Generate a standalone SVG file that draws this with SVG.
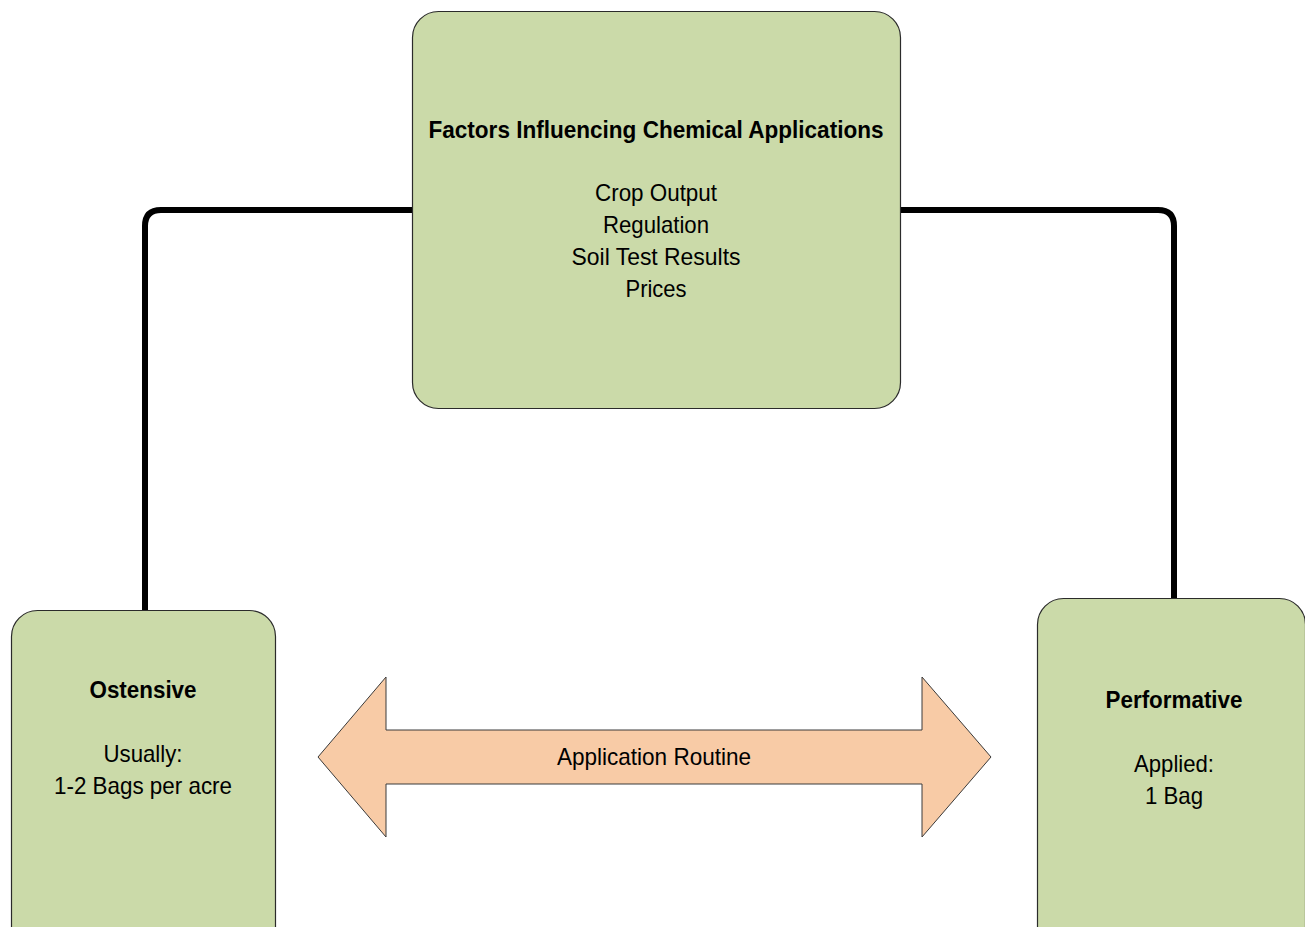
<svg xmlns="http://www.w3.org/2000/svg" width="1305" height="927" viewBox="0 0 1305 927">
  <style>
    .box { fill: #cbdaa9; stroke: #2b2b2b; stroke-width: 1.2; }
    .arrow { fill: #f8cba6; stroke: #3a3a3a; stroke-width: 1; }
    .link { fill: none; stroke: #000; stroke-width: 6; stroke-linecap: round; stroke-linejoin: round; }
    text { font-family: "Liberation Sans", Arial, sans-serif; font-size: 24px; fill: #000; text-anchor: middle; }
    .bold { font-weight: bold; }
  </style>
  <rect width="1305" height="927" fill="#fff"/>

  <!-- connectors from the factors box down to each routine side -->
  <g id="connectors">
    <path class="link" d="M412,210 H161 Q145,210 145,226 V610"/>
    <path class="link" d="M901,210 H1158 Q1174,210 1174,226 V599"/>
  </g>

  <g id="factors">
    <rect class="box" x="412.5" y="11.5" width="488" height="397" rx="26" ry="26"/>
    <text class="bold" x="656" y="138" textLength="455" lengthAdjust="spacingAndGlyphs">Factors Influencing Chemical Applications</text>
    <text x="656" y="201" textLength="122" lengthAdjust="spacingAndGlyphs">Crop Output</text>
    <text x="656" y="233" textLength="106" lengthAdjust="spacingAndGlyphs">Regulation</text>
    <text x="656" y="265" textLength="169" lengthAdjust="spacingAndGlyphs">Soil Test Results</text>
    <text x="656" y="297" textLength="61" lengthAdjust="spacingAndGlyphs">Prices</text>
  </g>

  <g id="ostensive">
    <rect class="box" x="11.5" y="610.5" width="264" height="360" rx="26" ry="26"/>
    <text class="bold" x="143" y="698" textLength="107" lengthAdjust="spacingAndGlyphs">Ostensive</text>
    <text x="143" y="762" textLength="79" lengthAdjust="spacingAndGlyphs">Usually:</text>
    <text x="143" y="794" textLength="178" lengthAdjust="spacingAndGlyphs">1-2 Bags per acre</text>
  </g>

  <g id="performative">
    <rect class="box" x="1037.5" y="598.5" width="268" height="372" rx="26" ry="26"/>
    <text class="bold" x="1174" y="708" textLength="137" lengthAdjust="spacingAndGlyphs">Performative</text>
    <text x="1174" y="772" textLength="80" lengthAdjust="spacingAndGlyphs">Applied:</text>
    <text x="1174" y="804" textLength="58" lengthAdjust="spacingAndGlyphs">1 Bag</text>
  </g>

  <g id="routine">
    <polygon class="arrow" points="318,757 386,677 386,730 922,730 922,677 991,757 922,837 922,784 386,784 386,837"/>
    <text x="654" y="765" textLength="194" lengthAdjust="spacingAndGlyphs">Application Routine</text>
  </g>
</svg>
